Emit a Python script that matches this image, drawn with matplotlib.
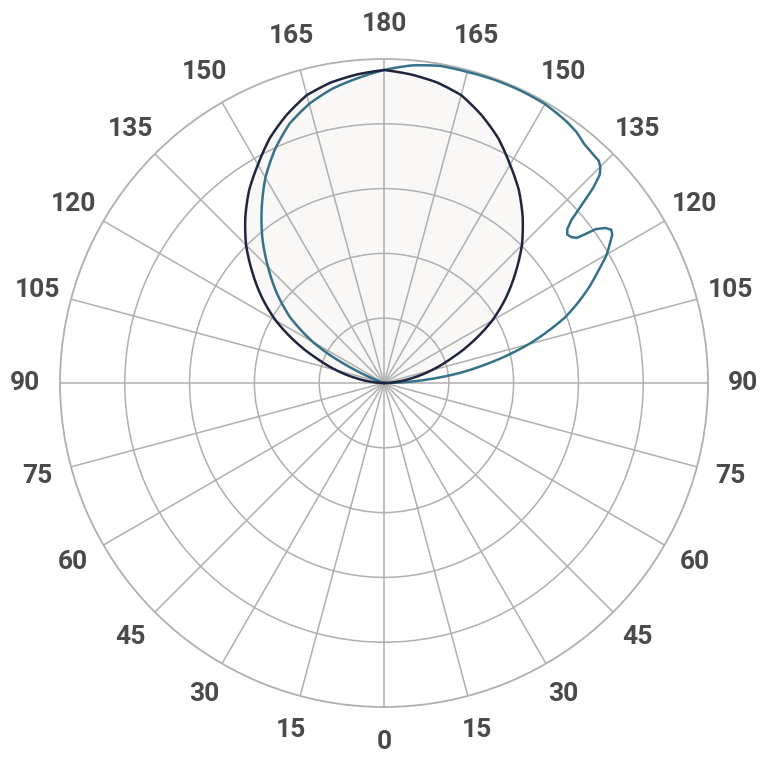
import numpy as np
import matplotlib
matplotlib.use("Agg")
import matplotlib.pyplot as plt

# gamma angles (deg) and intensities
# dark curve: same on both halves
DARK_GAMMA = [180, 175, 170, 165, 160, 155, 150, 145, 140, 135, 130,
              125, 120, 115, 110, 105, 100, 95, 90]
DARK_VALUES = [483, 478, 471, 460, 440, 417, 389, 363, 333, 301, 265,
               230, 193, 151, 110, 76, 45, 19, 0]

# blue curve, right half (C0)
BLUE_R_GAMMA = [180, 175, 170, 165, 160, 155, 150, 145, 142.5, 140,
                137.5, 136, 135, 134, 133, 132, 131, 130, 129, 128,
                127, 126.5, 126, 125, 124, 123, 122, 120, 117.5, 115,
                112.5, 110, 107.5, 105, 102.5, 100, 97.5, 95, 92.5, 90]
BLUE_R_VALUES = [483, 492, 497, 497, 498, 498, 497, 492, 488, 481,
                 478, 477, 472, 463, 441, 410, 383, 369, 364, 366,
                 372, 386, 404, 417, 423, 420, 412, 397, 372, 349,
                 324, 298, 265, 231, 193, 154, 117, 74, 34, 0]

# blue curve, left half (C180)
BLUE_L_GAMMA = [180, 175, 170, 165, 160, 155, 150, 145, 140, 135, 130,
                125, 120, 117.5, 115, 112.5, 110, 105, 90]
BLUE_L_VALUES = [483, 472, 461, 446, 426, 398, 366, 329, 292, 253, 216,
                 177, 127, 96, 59, 28, 11, 0, 0]

TICK_ANGLES = list(range(0, 360, 15))
R_MAX = 500
RINGS = [100, 200, 300, 400]

GRID_COLOR = "#b0b0b0"
DARK_COLOR = "#1f253c"
BLUE_COLOR = "#36718a"
FILL_COLOR = "#f9f8f6"
LABEL_COLOR = "#4a4a4a"


def full_curve(right_gamma, right_vals, left_gamma, left_vals):
    """Join both halves into one path from theta 90 to 270."""
    rg = np.array(right_gamma[::-1], dtype=float)
    rv = np.array(right_vals[::-1], dtype=float)
    lg = 360.0 - np.array(left_gamma, dtype=float)
    lv = np.array(left_vals, dtype=float)
    theta = np.deg2rad(np.concatenate([rg, lg[1:]]))
    r = np.concatenate([rv, lv[1:]])
    return theta, r


fig = plt.figure(figsize=(7.68, 7.68), dpi=100)
ax = fig.add_axes([60 / 768, 61 / 768, 648 / 768, 648 / 768],
                  projection="polar")
ax.set_theta_zero_location("S")
ax.set_theta_direction(1)
ax.set_ylim(0, R_MAX)

ax.set_thetagrids(TICK_ANGLES, labels=[""] * len(TICK_ANGLES))
ax.set_rgrids(RINGS, labels=[""] * len(RINGS))
ax.grid(True, color=GRID_COLOR, lw=1.1)
ax.spines["polar"].set_color(GRID_COLOR)
ax.spines["polar"].set_linewidth(1.3)

t_dark, r_dark = full_curve(DARK_GAMMA, DARK_VALUES, DARK_GAMMA, DARK_VALUES)
t_blue, r_blue = full_curve(BLUE_R_GAMMA, BLUE_R_VALUES,
                            BLUE_L_GAMMA, BLUE_L_VALUES)

# let the polar transform draw each segment as an arc, not a chord
poly = ax.fill(t_dark, r_dark, color=FILL_COLOR, zorder=1)[0]
poly.get_path()._interpolation_steps = 20
blue_line, = ax.plot(t_blue, r_blue, color=BLUE_COLOR, lw=1.8, zorder=3)
dark_line, = ax.plot(t_dark, r_dark, color=DARK_COLOR, lw=1.8, zorder=4)
for ln in (blue_line, dark_line):
    ln.get_path()._interpolation_steps = 20

for ang in TICK_ANGLES:
    label = ang if ang <= 180 else 360 - ang
    ax.text(np.deg2rad(ang), R_MAX * 1.108, str(label),
            ha="center", va="center", fontsize=19, fontweight="bold",
            family="Roboto", color=LABEL_COLOR, clip_on=False)

fig.savefig("out.png", dpi=100, facecolor="white")
